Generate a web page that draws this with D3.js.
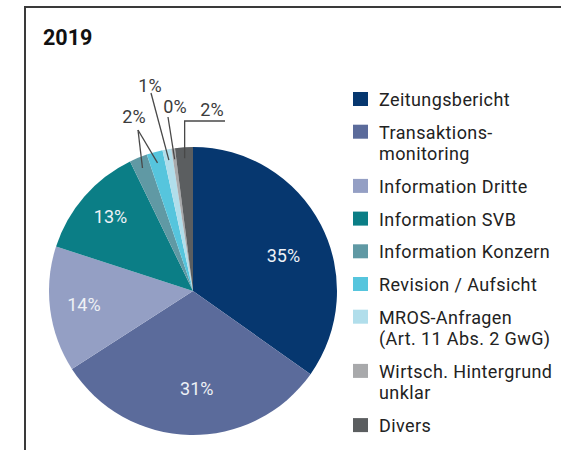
<!DOCTYPE html>
<html>
<head>
<meta charset="utf-8">
<script src="https://cdn.jsdelivr.net/npm/d3@7"></script>
<style>
  body { margin: 0; background: #fff; }
  svg { display: block; font-family: Roboto, "Noto Sans", sans-serif; }
</style>
</head>
<body>
<svg id="chart"></svg>
<script>
const width = 561, height = 450;

// data (shares in %)
const categories = ['Zeitungsbericht', 'Transaktionsmonitoring', 'Information Dritte', 'Information SVB',
  'Information Konzern', 'Revision / Aufsicht', 'MROS-Anfragen', 'Wirtsch. Hintergrund unklar', 'Divers'];
const shares = [34.8, 31.1, 14.1, 12.8, 2.0, 1.8, 1.0, 0.4, 2.0];
const legendLabels = [['Zeitungsbericht'], ['Transaktions-', 'monitoring'], ['Information Dritte'], ['Information SVB'],
  ['Information Konzern'], ['Revision / Aufsicht'], ['MROS-Anfragen', '(Art. 11 Abs. 2 GwG)'],
  ['Wirtsch. Hintergrund', 'unklar'], ['Divers']];
const colors = ['#06376f', '#5b6b9b', '#949fc4', '#0b7e86', '#6099a4', '#56c5dd', '#b1deeb', '#a8a9ab', '#5b5e60'];
const title = '2019';

const cx = 193, cy = 291, radius = 144;

const svg = d3.select('#chart')
  .attr('width', width)
  .attr('height', height)
  .attr('viewBox', [0, 0, width, height]);

// frame (top + left rule)
svg.append('path')
  .attr('d', `M25,${height} L25,7 L${width},7`)
  .attr('fill', 'none')
  .attr('stroke', '#3a3a3a')
  .attr('stroke-width', 2);

svg.append('text')
  .attr('x', 43).attr('y', 45)
  .text(title)
  .style('font-size', '21.5px')
  .style('font-weight', 700)
  .attr('fill', '#111');

const items = categories.map((c, i) => ({ key: c, value: shares[i], color: colors[i] }));

const pie = d3.pie().sort(null).value((d) => d.value);
const arcs = pie(items);
const arc = d3.arc().innerRadius(0).outerRadius(radius);
const labelArc = d3.arc().innerRadius(104).outerRadius(104);
const tipArc = d3.arc().innerRadius(133).outerRadius(133);

const g = svg.append('g').attr('transform', `translate(${cx},${cy})`);

g.selectAll('path.slice')
  .data(arcs)
  .join('path')
  .attr('class', 'slice')
  .attr('d', arc)
  .attr('fill', (d) => d.data.color);

/** inner labels for the big slices (small hand nudges like the original) */
const innerNudge = { 'Zeitungsbericht': [-2, 12], 'Transaktionsmonitoring': [6, -6], 'Information Dritte': [-6, 0], 'Information SVB': [-4, -6] };
g.selectAll('text.inner')
  .data(arcs.filter((d) => d.data.value >= 5))
  .join('text')
  .attr('class', 'inner')
  .attr('transform', (d) => {
    const [x, y] = labelArc.centroid(d);
    const n = innerNudge[d.data.key] || [0, 0];
    return `translate(${x + n[0]},${y + n[1]})`;
  })
  .attr('text-anchor', 'middle')
  .attr('dy', '0.35em')
  .style('font-size', '18px')
  .attr('fill', '#eef1f6')
  .text((d) => `${Math.round(d.data.value)}%`);

/** callouts for the small slices: elbow + text spot, relative to pie centre */
const callouts = {
  'Information Konzern': { elbow: [-55, -161], text: [-59, -174] },
  'Revision / Aufsicht': { elbow: [-55, -161], text: null },
  'MROS-Anfragen': { elbow: [-42, -198], text: [-43, -205] },
  'Wirtsch. Hintergrund unklar': { elbow: [-25, -174], text: [-18, -184] },
  'Divers': { elbow: [32, -170], text: [19, -181], bend: true },
};

arcs.filter((d) => callouts[d.data.key]).forEach((d) => {
  const c = callouts[d.data.key];
  const tip = tipArc.centroid(d);
  let pts = [c.elbow, tip];
  if (c.bend) pts = [c.elbow, [tip[0], c.elbow[1]], tip];
  g.append('path')
    .attr('d', d3.line()(pts))
    .attr('fill', 'none')
    .attr('stroke', '#484848')
    .attr('stroke-width', 1.3);
  if (c.text) {
    g.append('text')
      .attr('x', c.text[0]).attr('y', c.text[1])
      .attr('text-anchor', 'middle')
      .attr('dy', '0.35em')
      .style('font-size', '18px')
      .attr('fill', '#3c3c3c')
      .text(`${Math.round(d.data.value)}%`);
  }
});

/** LEGEND */
const legend = svg.append('g');
let ly = 106;
legendLabels.forEach((lines, i) => {
  legend.append('rect')
    .attr('x', 353).attr('y', ly - 14)
    .attr('width', 15).attr('height', 14)
    .attr('fill', colors[i]);
  lines.forEach((t, j) => {
    legend.append('text')
      .attr('x', 379).attr('y', ly + j * 21.5)
      .text(t)
      .style('font-size', '18px')
      .style('letter-spacing', '0.4px')
      .attr('fill', '#222');
  });
  ly += (lines.length - 1) * 21.5 + 32.7;
});
</script>
</body>
</html>
